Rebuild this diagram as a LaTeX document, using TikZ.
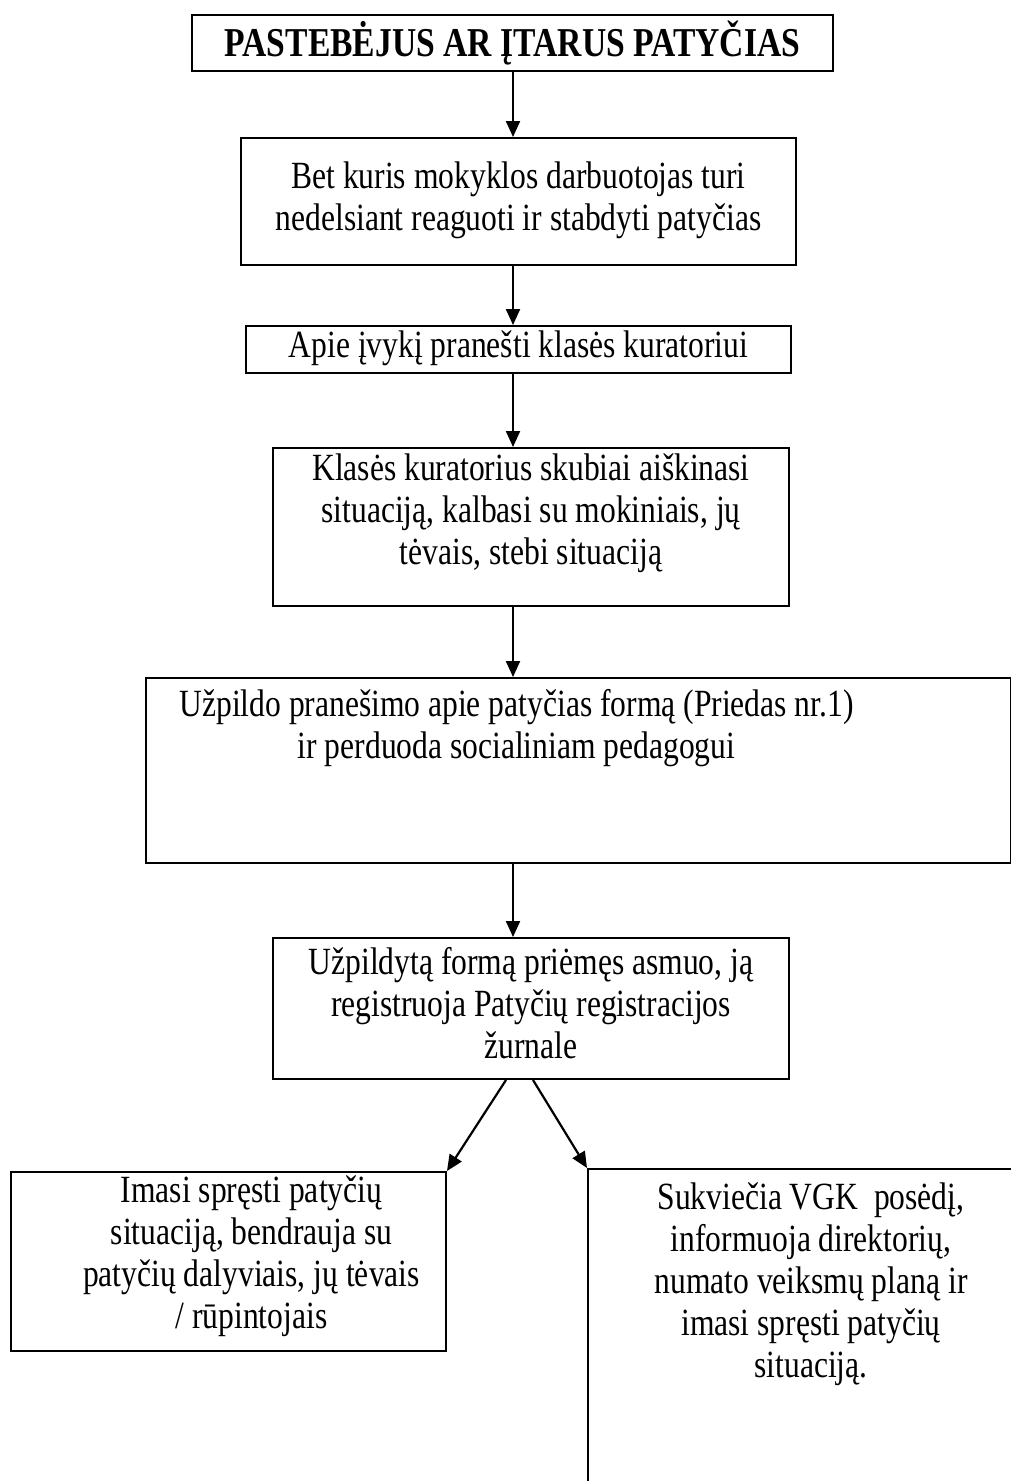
\documentclass[tikz,border=0pt]{standalone}
\usepackage{fontspec}
\setmainfont{Liberation Serif}[FakeStretch=0.82]
\usetikzlibrary{positioning}
\usetikzlibrary{arrows.meta}

% width, height, top gap, lines
\newcommand{\boxtext}[4]{\parbox[c][#2pt][t]{#1pt}{\centering\vspace*{#3pt}\rule{0pt}{29.4pt}#4}}

\begin{document}
\begin{tikzpicture}[x=1pt, y=-1pt,
                          titlebox/.style={rectangle, draw, line width=2pt, inner sep=0pt, minimum width=641pt, minimum height=56pt, anchor=north west, font=\fontsize{41}{46}\selectfont\bfseries},
                          flowbox/.style={rectangle, draw, line width=2pt, inner sep=0pt, anchor=north west, font=\fontsize{38.5}{42}\selectfont},
                          flowarrow/.style={-{Triangle[length=16pt,width=14pt]}, line width=2.2pt},
                      ]
                      \useasboundingbox (0,0) rectangle (1011,1481);
                      \clip (0,0) rectangle (1011,1481);

                      %Nodes
                      \node[titlebox]   (title)     at (191,14)    {PASTEBĖJUS AR ĮTARUS PATYČIAS};
                      \node[flowbox]    (notice)    at (240,137)   {\boxtext{555}{127}{20.6}{Bet kuris mokyklos darbuotojas turi\\nedelsiant reaguoti ir stabdyti patyčias}};
                      \node[flowbox]    (report)    at (245,325)   {\boxtext{545}{47}{1.6}{Apie įvykį pranešti klasės kuratoriui}};
                      \node[flowbox]    (curator)   at (272,447)   {\boxtext{516}{158}{2.6}{Klasės kuratorius skubiai aiškinasi\\situaciją, kalbasi su mokiniais, jų\\tėvais, stebi situaciją}};
                      \node[flowbox]    (form)      at (145,677)   {\boxtext{865}{185}{8.6}{\rightskip=124pt plus 1fil Užpildo pranešimo apie patyčias formą (Priedas nr.1)\\ir perduoda socialiniam pedagogui}};
                      \node[flowbox]    (register)  at (272,937)   {\boxtext{516}{141}{6.6}{Užpildytą formą priėmęs asmuo, ją\\registruoja Patyčių registracijos\\žurnale}};
                      \node[flowbox]    (handle)    at (10,1171)   {\boxtext{435}{179}{0.6}{\leftskip=46pt plus 1fil Imasi spręsti patyčių\\situaciją, bendrauja su\\patyčių dalyviais, jų tėvais\\/ rūpintojais}};
                      \node[flowbox]    (vgk)       at (587,1168)  {\boxtext{446}{340}{10.6}{Sukviečia VGK\ \ posėdį,\\informuoja direktorių,\\numato veiksmų planą ir\\imasi spręsti patyčių\\situaciją.}};
                      \coordinate (spine) at (513,0);

                      %Lines
                      \draw[flowarrow] (title.south -| spine) -- (notice.north -| spine);
                      \draw[flowarrow] (notice.south -| spine) -- (report.north -| spine);
                      \draw[flowarrow] (report.south -| spine) -- (curator.north -| spine);
                      \draw[flowarrow] (curator.south -| spine) -- (form.north -| spine);
                      \draw[flowarrow] (form.south -| spine) -- (register.north -| spine);
                      \draw[flowarrow] ([xshift=-25pt]register.south) -- (handle.north east);
                      \draw[flowarrow] ([xshift=2pt]register.south) -- (vgk.north west);
                  \end{tikzpicture}
\end{document}
